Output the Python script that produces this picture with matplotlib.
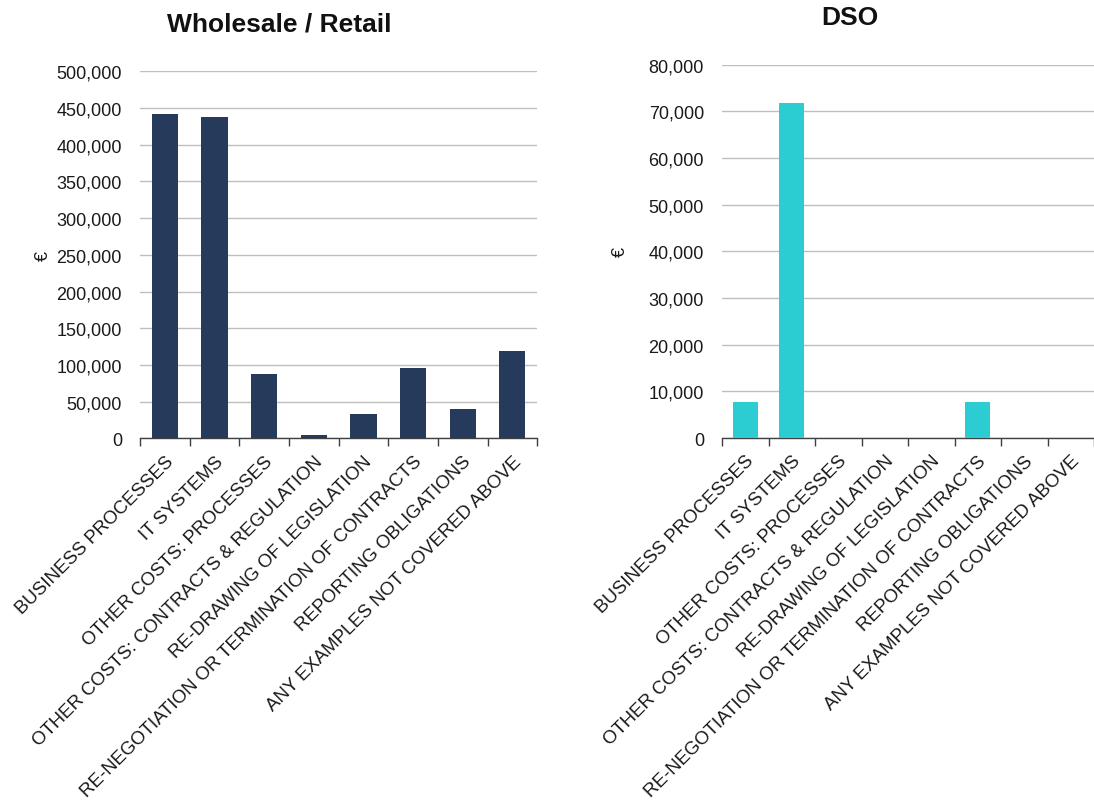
import numpy as np
import matplotlib.pyplot as plt
from matplotlib.ticker import FuncFormatter, FixedLocator

plt.rcParams['font.family'] = ['Liberation Sans', 'DejaVu Sans']

categories = [
    'BUSINESS PROCESSES',
    'IT SYSTEMS',
    'OTHER COSTS: PROCESSES',
    'OTHER COSTS: CONTRACTS & REGULATION',
    'RE-DRAWING OF LEGISLATION',
    'RE-NEGOTIATION OR TERMINATION OF CONTRACTS',
    'REPORTING OBLIGATIONS',
    'ANY EXAMPLES NOT COVERED ABOVE',
]
wholesale_retail = [442000, 438000, 88000, 4500, 33500, 96000, 40000, 119000]
dso = [7800, 71800, 0, 0, 0, 7800, 0, 0]

navy = '#263a5c'
cyan = '#2bcdd2'
grid_col = '#bfbfbf'
text_col = '#1a1a1a'

fig = plt.figure(figsize=(10.94, 8.03), dpi=100)
ax1 = fig.add_axes([0.128, 0.4527, 0.363, 0.4576])
ax2 = fig.add_axes([0.660, 0.4533, 0.340, 0.4649])


def style_axes(ax, values, color, ymax, step, ylabel_pad):
    x = np.arange(len(categories))
    ax.bar(x, values, width=0.53, color=color, zorder=3)
    ax.set_xlim(-0.5, len(categories) - 0.5)
    ax.set_ylim(0, ymax)
    ax.set_yticks(np.arange(0, ymax + 1, step))
    ax.yaxis.set_major_formatter(FuncFormatter(lambda v, p: f'{int(v):,}'))
    ax.grid(axis='y', color=grid_col, linewidth=1, zorder=0)
    for s in ['left', 'right', 'top']:
        ax.spines[s].set_visible(False)
    ax.spines['bottom'].set_color('#404040')
    ax.spines['bottom'].set_linewidth(1)
    ax.tick_params(axis='y', length=0, labelsize=13, labelcolor=text_col, pad=13)
    ax.set_xticks(x)
    ax.set_xticklabels(categories, rotation=45, ha='right',
                       rotation_mode='anchor', fontsize=13.4, color=text_col)
    ax.tick_params(axis='x', which='major', length=0, pad=10)
    ax.xaxis.set_minor_locator(FixedLocator(np.arange(-0.5, len(categories), 1)))
    ax.tick_params(axis='x', which='minor', length=6, color='#404040', width=1)
    ax.set_ylabel('€', fontsize=13, color=text_col, labelpad=ylabel_pad)


style_axes(ax1, wholesale_retail, navy, 500000, 50000, 3)
style_axes(ax2, dso, cyan, 80000, 10000, 14)

fig.text(279 / 1094, 1 - 24 / 803, 'Wholesale / Retail', fontsize=19,
         fontweight='bold', ha='center', va='center', color='#111111')
fig.text(850 / 1094, 1 - 18 / 803, 'DSO', fontsize=19,
         fontweight='bold', ha='center', va='center', color='#111111')

fig.savefig('out.png', dpi=100)
